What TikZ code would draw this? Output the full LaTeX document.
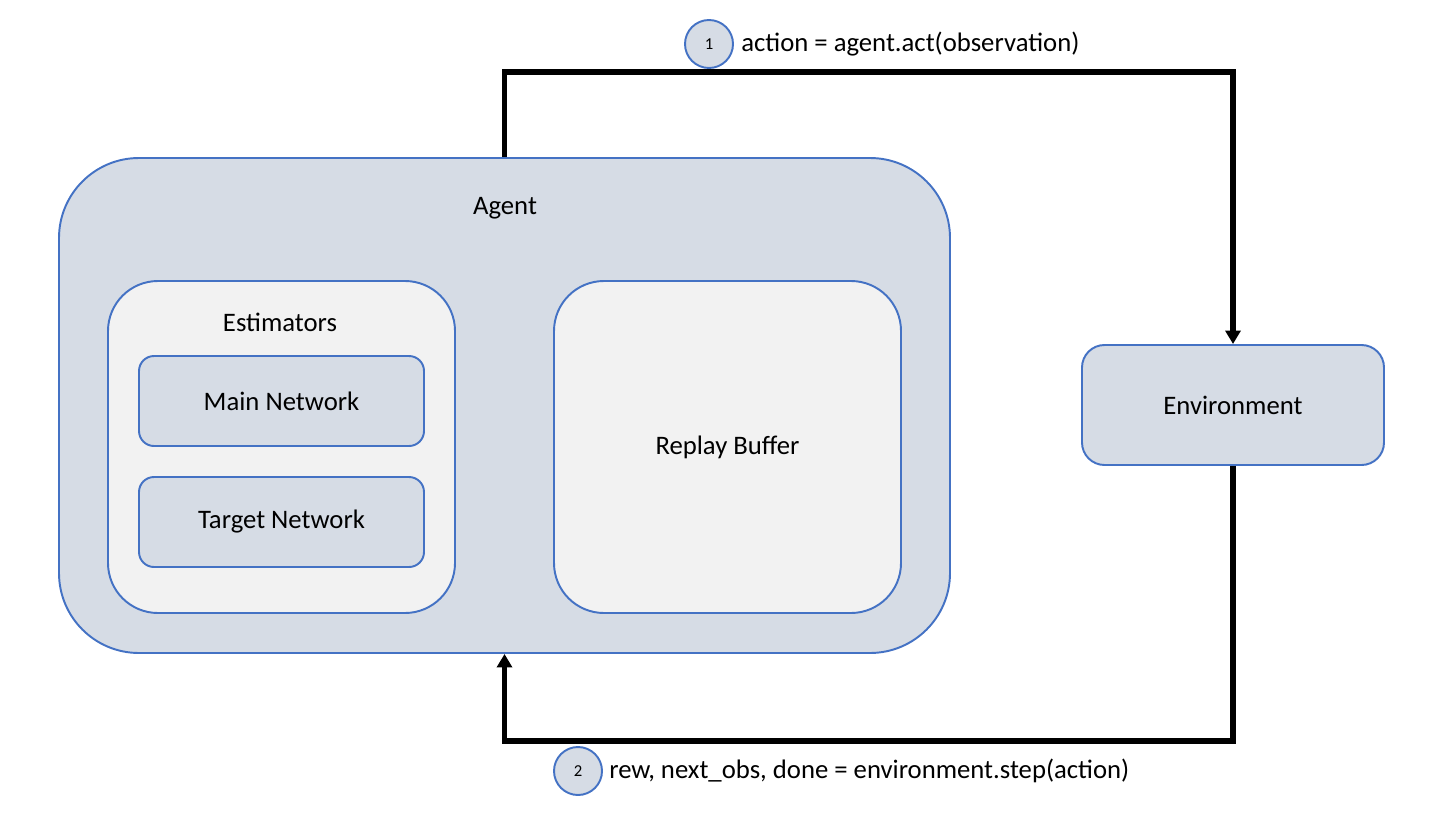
\documentclass[tikz,border=0pt]{standalone}
\usepackage{fontspec}
\setmainfont{Carlito}
\usetikzlibrary{arrows.meta,positioning}

\definecolor{boxfill}{HTML}{D6DCE5}
\definecolor{boxline}{HTML}{4472C4}
\definecolor{innerfill}{HTML}{F2F2F2}

\begin{document}
\begin{tikzpicture}[font=\fontsize{15.2}{18}\selectfont,
    bnode/.style={draw=boxline, fill=boxfill, line width=1.1pt, rectangle},
    inode/.style={draw=boxline, fill=innerfill, line width=1.1pt, rectangle, rounded corners=1cm, minimum width=6.94cm, minimum height=6.64cm},
    numnode/.style={draw=boxline, fill=boxfill, line width=1.1pt, circle, minimum size=0.96cm, inner sep=0pt, font=\fontsize{9.5}{10}\selectfont},
    flow/.style={line width=3pt, -{Triangle[width=0.3cm,length=0.27cm]}}]
    \useasboundingbox (0,0) rectangle (28.78,-16.28);

    \node[bnode, rounded corners=1.6cm, minimum width=17.82cm, minimum height=9.9cm] (agent) at (10.09,-8.11) {};
    \node (agentlbl) at (10.1,-4.16) {Agent};
    \node[inode] (estim) at (5.63,-8.94) {};
    \node (estimlbl) at (5.6,-6.45) {Estimators};
    \node[bnode, rounded corners=0.3cm, minimum width=5.7cm, minimum height=1.8cm] (mainnet) at (5.63,-8.02) {Main Network};
    \node[bnode, rounded corners=0.3cm, minimum width=5.7cm, minimum height=1.8cm] (targetnet) at (5.63,-10.44) {Target Network};
    \node[inode] (buffer) at (14.55,-8.94) {Replay Buffer};
    \node[bnode, rounded corners=0.45cm, minimum width=6.04cm, minimum height=2.4cm] (env) at (24.66,-8.1) {Environment};

    \node[numnode] (c1) at (14.18,-0.88) {1};
    \node[right=0.14cm of c1, inner sep=0pt] (lbl1) {action = agent.act(observation)};
    \node[numnode] (c2) at (11.56,-15.42) {2};
    \node[right=0.12cm of c2, inner sep=0pt] (lbl2) {rew, next\_obs, done = environment.step(action)};

    \draw[flow] (agent.north) -- ++(0,1.7) -| (env.north);
    \draw[flow] (env.south) -- ++(0,-5.5) -| (agent.south);
\end{tikzpicture}
\end{document}
